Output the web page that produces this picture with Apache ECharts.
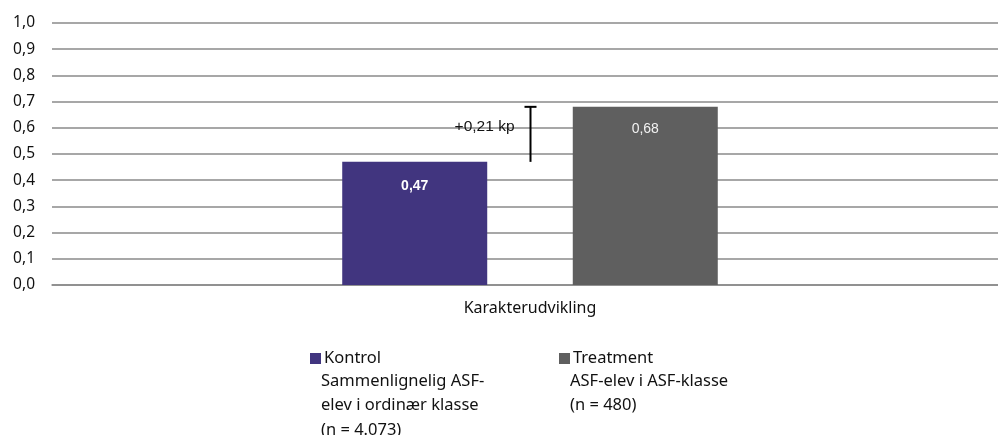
<!DOCTYPE html>
<html><head><meta charset="utf-8">
<script src="https://cdn.jsdelivr.net/npm/echarts@6/dist/echarts.min.js"></script>
<style>html,body{margin:0;padding:0;background:#fff}#c{width:998px;height:435px}</style>
</head><body><div id="c"></div>
<script>
var categories = ['Karakterudvikling'];
var seriesNames = ['Kontrol', 'Treatment'];
var kontrolValues = [0.47];
var treatmentValues = [0.68];
var diffLabel = '+0,21 kp';
var diffRange = [0.47, 0.68];
var yTicks = ['0,0','0,1','0,2','0,3','0,4','0,5','0,6','0,7','0,8','0,9','1,0'];
var kontrolDesc = 'Sammenlignelig ASF-\nelev i ordinær klasse\n(n = 4.073)';
var treatmentDesc = 'ASF-elev i ASF-klasse\n(n = 480)';

var fmt = function(v){ return v.toFixed(2).replace('.', ','); };
var chart = echarts.init(document.getElementById('c'));
chart.setOption({
  animation: false,
  grid: { left: 52, top: 23, width: 956, height: 262, outerBoundsMode: 'none', containLabel: false },
  xAxis: {
    type: 'category', data: categories,
    axisLine: { show: true, lineStyle: { color: '#8a8a8a', width: 1.5 } },
    axisTick: { show: false },
    axisLabel: { color: '#111', fontFamily: 'Noto Sans', fontSize: 16, margin: 15 }
  },
  yAxis: {
    type: 'value', min: 0, max: 1, interval: 0.1,
    axisLine: { show: false }, axisTick: { show: false },
    splitLine: { lineStyle: { color: '#8a8a8a', width: 1.5 } },
    axisLabel: { color: '#111', fontFamily: 'Noto Sans', fontSize: 15.5, margin: 17,
      formatter: function(v){ return yTicks[Math.round(v*10)]; } }
  },
  legend: [
    { data: [seriesNames[0]], left: 305, top: 345, itemWidth: 11, itemHeight: 11, itemGap: 0,
      icon: 'rect', textStyle: { color: '#111', fontFamily: 'Noto Sans', fontSize: 16.5, padding: [0,0,0,-2] } },
    { data: [seriesNames[1]], left: 554, top: 345, itemWidth: 11, itemHeight: 11, itemGap: 0,
      icon: 'rect', textStyle: { color: '#111', fontFamily: 'Noto Sans', fontSize: 16.5, padding: [0,0,0,-2] } }
  ],
  graphic: [
    { type: 'text', left: 321, top: 369, style: { text: kontrolDesc, fill: '#111', font: '16.5px "Noto Sans"', lineHeight: 24.5 } },
    { type: 'text', left: 570, top: 369, style: { text: treatmentDesc, fill: '#111', font: '16.5px "Noto Sans"', lineHeight: 24.5 } }
  ],
  series: [
    { name: seriesNames[0], type: 'bar', data: kontrolValues, barWidth: 145, barGap: '59%',
      itemStyle: { color: '#41357f' },
      label: { show: true, position: 'insideTop', distance: 17, color: '#fff', fontFamily: 'Liberation Sans', fontWeight: 'bold', fontSize: 14,
        formatter: function(p){ return fmt(p.value); } } },
    { name: seriesNames[1], type: 'bar', data: treatmentValues, barWidth: 145,
      itemStyle: { color: '#5f5f5f' },
      label: { show: true, position: 'insideTop', distance: 15, color: '#f2f2f2', fontFamily: 'Liberation Sans', fontSize: 14,
        formatter: function(p){ return fmt(p.value); } } },
    { type: 'custom', data: [[0, diffRange[0], diffRange[1]]], z: 10, silent: true,
      renderItem: function(params, api){
        var lo = api.coord([api.value(0), api.value(1)]);
        var hi = api.coord([api.value(0), api.value(2)]);
        var x = Math.round(lo[0]) + 0.5;
        return { type: 'group', children: [
          { type: 'line', shape: { x1: x, y1: lo[1], x2: x, y2: hi[1] }, style: { stroke: '#000', lineWidth: 2 } },
          { type: 'line', shape: { x1: x-6, y1: hi[1], x2: x+6, y2: hi[1] }, style: { stroke: '#000', lineWidth: 2 } },
          { type: 'text', x: x - 16, y: (lo[1] + hi[1]) / 2 - 8, style: { text: diffLabel, textAlign: 'right', textVerticalAlign: 'middle', fill: '#111', font: '15.5px "Liberation Sans"' } }
        ]};
      } }
  ]
});
</script></body></html>
